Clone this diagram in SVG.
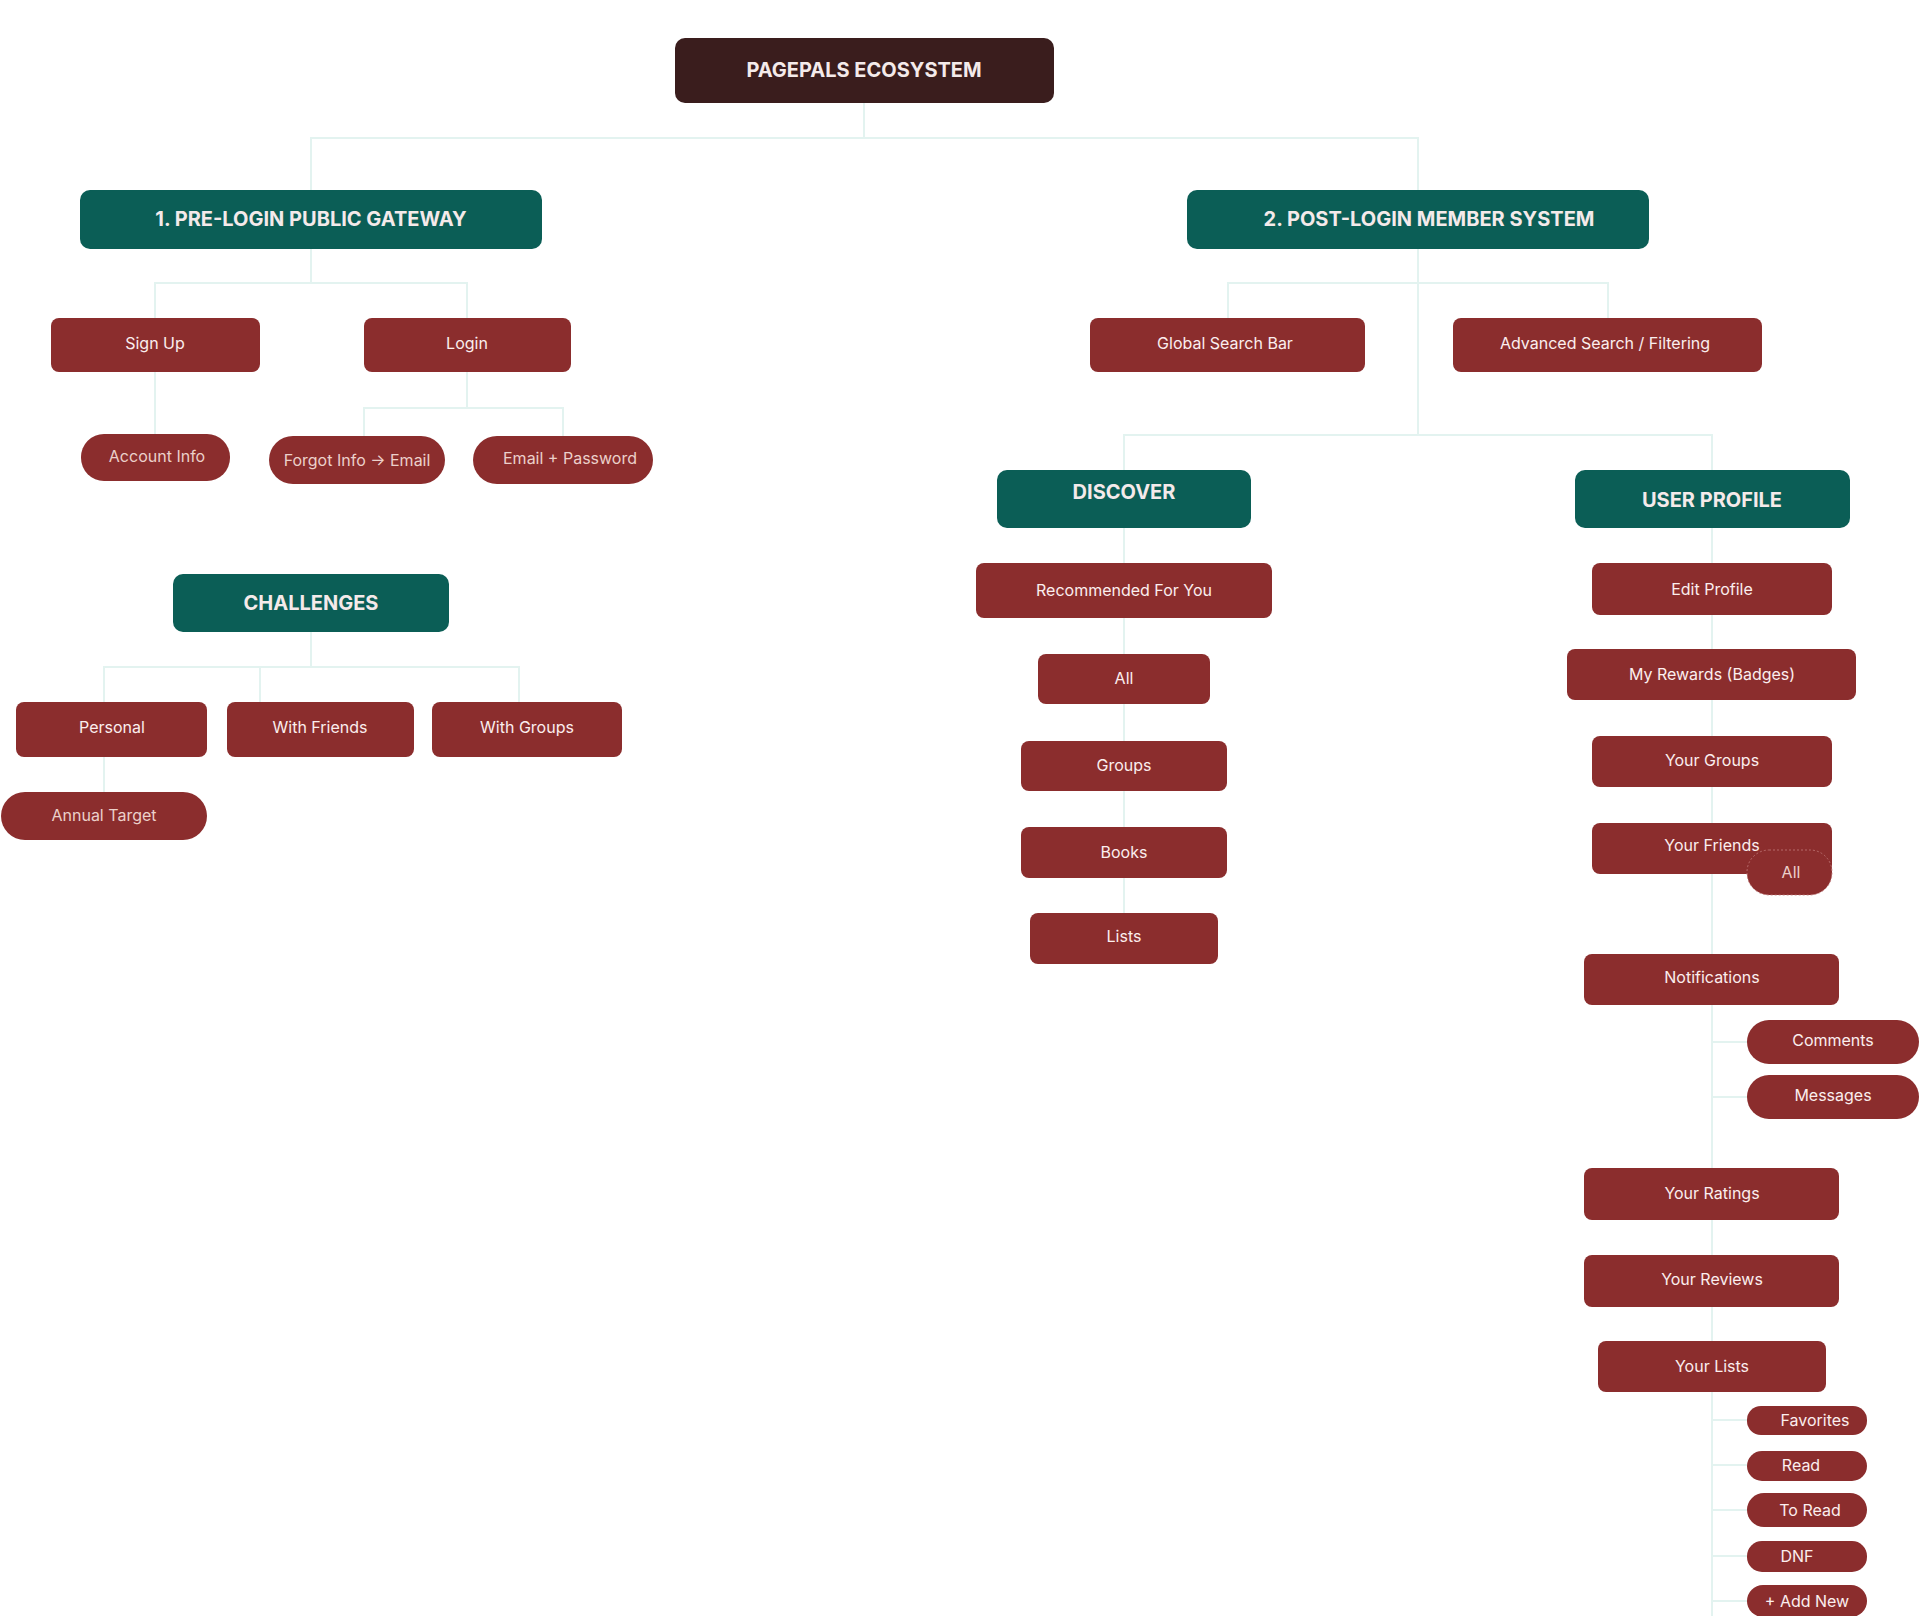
<svg xmlns="http://www.w3.org/2000/svg" width="1920" height="1616" viewBox="0 0 1920 1616">
<style>
.c{stroke:#e3f3f0;stroke-width:2;fill:none}
.r{fill:#8b2d2d}
.t{fill:#0b5e56}
.l{font-family:Inter,"Liberation Sans",sans-serif;font-size:16px;fill:#fbeeee;text-anchor:middle;dominant-baseline:central}
.p{fill:#ecd0ca}
.h{font-family:Inter,"Liberation Sans",sans-serif;font-size:20px;font-weight:bold;fill:#f4eaea;text-anchor:middle;dominant-baseline:central}
</style>
<rect width="1920" height="1616" fill="#fff"/>
<g id="connectors">
<path class="c" d="M864 103V138M311 190V138H1418V190"/>
<path class="c" d="M311 249V283M155 318V283H467V318M155 372V434M467 372V408M364 436V408H563V436"/>
<path class="c" d="M311 632V667M104 702V667H519V702M104 757V792M260 667V702"/>
<path class="c" d="M1418 249V283M1228 318V283H1608V318M1418 283V435M1124 470V435H1712V470"/>
<path class="c" d="M1124 528V964M1712 528V1616"/>
<path class="c" d="M1712 1042H1747M1712 1097H1747M1712 1420H1747M1712 1465H1747M1712 1510H1747M1712 1556H1747M1712 1601H1747"/>
</g>
<g id="root"><rect x="675" y="38" width="379" height="65" rx="10" fill="#3a1d1d"/><text class="h" x="864" y="70">PAGEPALS ECOSYSTEM</text></g>
<g id="pre"><rect class="t" x="80" y="190" width="462" height="59" rx="10"/><text class="h" x="311" y="219">1. PRE-LOGIN PUBLIC GATEWAY</text></g>
<g id="post"><rect class="t" x="1187" y="190" width="462" height="59" rx="10"/><text class="h" x="1429" y="219">2. POST-LOGIN MEMBER SYSTEM</text></g>
<g id="signup"><rect class="r" x="51" y="318" width="209" height="54" rx="8"/><text class="l" x="155" y="343">Sign Up</text></g>
<g id="login"><rect class="r" x="364" y="318" width="207" height="54" rx="8"/><text class="l" x="467" y="343">Login</text></g>
<g id="account"><rect class="r" x="81" y="434" width="149" height="47" rx="23"/><text class="l p" x="157" y="456">Account Info</text></g>
<g id="forgot"><rect class="r" x="269" y="436" width="176" height="48" rx="24"/><text class="l p" x="357" y="460">Forgot Info → Email</text></g>
<g id="emailpw"><rect class="r" x="473" y="436" width="180" height="48" rx="24"/><text class="l p" x="570" y="458">Email + Password</text></g>
<g id="challenges"><rect class="t" x="173" y="574" width="276" height="58" rx="10"/><text class="h" x="311" y="603">CHALLENGES</text></g>
<g id="personal"><rect class="r" x="16" y="702" width="191" height="55" rx="8"/><text class="l" x="112" y="727">Personal</text></g>
<g id="friends"><rect class="r" x="227" y="702" width="187" height="55" rx="8"/><text class="l" x="320" y="727">With Friends</text></g>
<g id="groupsc"><rect class="r" x="432" y="702" width="190" height="55" rx="8"/><text class="l" x="527" y="727">With Groups</text></g>
<g id="annual"><rect class="r" x="1" y="792" width="206" height="48" rx="24"/><text class="l p" x="104" y="815">Annual Target</text></g>
<g id="gsearch"><rect class="r" x="1090" y="318" width="275" height="54" rx="8"/><text class="l" x="1225" y="343">Global Search Bar</text></g>
<g id="asearch"><rect class="r" x="1453" y="318" width="309" height="54" rx="8"/><text class="l" x="1605" y="343">Advanced Search / Filtering</text></g>
<g id="discover"><rect class="t" x="997" y="470" width="254" height="58" rx="10"/><text class="h" x="1124" y="492">DISCOVER</text></g>
<g id="userprofile"><rect class="t" x="1575" y="470" width="275" height="58" rx="10"/><text class="h" x="1712" y="500">USER PROFILE</text></g>
<g id="rec"><rect class="r" x="976" y="563" width="296" height="55" rx="8"/><text class="l" x="1124" y="590">Recommended For You</text></g>
<g id="dall"><rect class="r" x="1038" y="654" width="172" height="50" rx="8"/><text class="l" x="1124" y="678">All</text></g>
<g id="dgroups"><rect class="r" x="1021" y="741" width="206" height="50" rx="8"/><text class="l" x="1124" y="765">Groups</text></g>
<g id="books"><rect class="r" x="1021" y="827" width="206" height="51" rx="8"/><text class="l" x="1124" y="852">Books</text></g>
<g id="lists"><rect class="r" x="1030" y="913" width="188" height="51" rx="8"/><text class="l" x="1124" y="936">Lists</text></g>
<g id="edit"><rect class="r" x="1592" y="563" width="240" height="52" rx="8"/><text class="l" x="1712" y="589">Edit Profile</text></g>
<g id="rewards"><rect class="r" x="1567" y="649" width="289" height="51" rx="8"/><text class="l" x="1712" y="674">My Rewards (Badges)</text></g>
<g id="ygroups"><rect class="r" x="1592" y="736" width="240" height="51" rx="8"/><text class="l" x="1712" y="760">Your Groups</text></g>
<g id="yfriends"><rect class="r" x="1592" y="823" width="240" height="51" rx="8"/><text class="l" x="1712" y="845">Your Friends</text></g>
<g id="fall"><rect class="r" x="1747" y="850" width="85" height="45" rx="22" stroke="#c07a7a" stroke-width="0.8" stroke-dasharray="2 2"/><text class="l p" x="1791" y="872">All</text></g>
<g id="notif"><rect class="r" x="1584" y="954" width="255" height="51" rx="8"/><text class="l" x="1712" y="977">Notifications</text></g>
<g id="comments"><rect class="r" x="1747" y="1020" width="172" height="44" rx="22"/><text class="l" x="1833" y="1040">Comments</text></g>
<g id="messages"><rect class="r" x="1747" y="1075" width="172" height="44" rx="22"/><text class="l" x="1833" y="1095">Messages</text></g>
<g id="ratings"><rect class="r" x="1584" y="1168" width="255" height="52" rx="8"/><text class="l" x="1712" y="1193">Your Ratings</text></g>
<g id="reviews"><rect class="r" x="1584" y="1255" width="255" height="52" rx="8"/><text class="l" x="1712" y="1279">Your Reviews</text></g>
<g id="ylists"><rect class="r" x="1598" y="1341" width="228" height="51" rx="8"/><text class="l" x="1712" y="1366">Your Lists</text></g>
<g id="fav"><rect class="r" x="1747" y="1406" width="120" height="29" rx="14"/><text class="l" x="1815" y="1420">Favorites</text></g>
<g id="read"><rect class="r" x="1747" y="1451" width="120" height="30" rx="15"/><text class="l" x="1801" y="1465">Read</text></g>
<g id="toread"><rect class="r" x="1747" y="1493" width="120" height="34" rx="17"/><text class="l" x="1810" y="1510">To Read</text></g>
<g id="dnf"><rect class="r" x="1747" y="1541" width="120" height="31" rx="15"/><text class="l" x="1797" y="1556">DNF</text></g>
<g id="addnew"><rect class="r" x="1747" y="1585" width="120" height="32" rx="16"/><text class="l" x="1807" y="1601">+ Add New</text></g>
</svg>
